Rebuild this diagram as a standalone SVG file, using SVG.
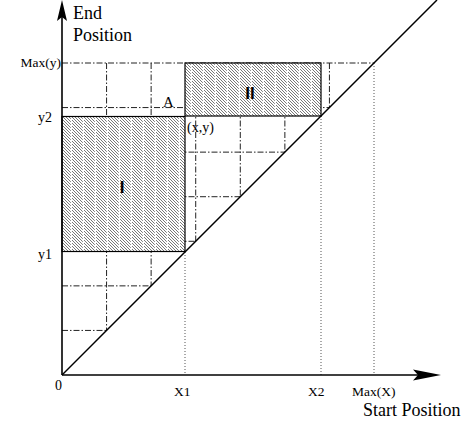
<svg xmlns="http://www.w3.org/2000/svg" width="468" height="428" viewBox="0 0 468 428">
<defs>
<pattern id="hatch" patternUnits="userSpaceOnUse" width="12" height="12">
<rect width="12" height="12" fill="#fff"/>
<path d="M0,-12 L12,0 M0,-9 L12,3 M0,-6 L12,6 M0,-3 L12,9 M0,0 L12,12 M0,3 L12,15 M0,6 L12,18 M0,9 L12,21" stroke="#6a6a6a" stroke-width="0.9"/>
<rect x="10.8" y="0" width="1.2" height="12" fill="#fff"/>
</pattern>
<style>
.dd{stroke:#222;stroke-width:1;stroke-dasharray:6 2 1.5 2;fill:none}
.dot{stroke:#555;stroke-width:1;stroke-dasharray:1 2;fill:none}
.ax{stroke:#000;stroke-width:1.6;fill:none}
.box{fill:url(#hatch);stroke:#000;stroke-width:1.2}
.t{font-family:"Liberation Serif",serif;fill:#000}
.rn{font-family:"Liberation Sans",sans-serif;font-weight:bold;fill:#000;font-size:17px;text-anchor:middle}
</style>
</defs>
<g id="grid">
<path class="dd" d="M62,330.43H106.57 M62,285.86H151.14 M62,241.29H195.71 M62,196.71H240.29 M62,152.14H284.86 M62,107.57H329.43 M62,63H374"/>
<path class="dd" d="M106.57,63V330.43 M151.14,63V285.86 M195.71,63V241.29 M240.29,63V196.71 M284.86,63V152.14 M329.43,63V107.57"/>
<path class="dot" d="M185,252V375 M321,116V375 M374,63V375"/>
</g>
<g id="region-I">
<rect class="box" x="62" y="116.5" width="123" height="135"/>
<text class="rn" x="122" y="193">I</text>
</g>
<g id="region-II">
<rect class="box" x="185" y="63" width="136" height="53"/>
<text class="rn" x="250" y="99">II</text>
</g>
<g id="connectors">
<path class="ax" d="M62,375V14"/>
<path d="M62,0 L67,21 L62,17 L57,21 Z" fill="#000"/>
<path class="ax" d="M62,375H428"/>
<path d="M441,375 L413,369.5 L418,375 L413,380.5 Z" fill="#000"/>
<path d="M62,375 L437,0" stroke="#000" stroke-width="1.5" fill="none"/>
</g>
<g id="labels">
<text class="t" x="73" y="19" font-size="18">End</text>
<text class="t" x="73" y="41" font-size="18">Position</text>
<text class="t" x="363" y="416" font-size="18">Start Position</text>
<text class="t" x="61" y="67" font-size="13.5" text-anchor="end">Max(y)</text>
<text class="t" x="52" y="122" font-size="14" text-anchor="end">y2</text>
<text class="t" x="52" y="259" font-size="14" text-anchor="end">y1</text>
<text class="t" x="55" y="390" font-size="14">0</text>
<text class="t" x="174" y="396" font-size="13.5">X1</text>
<text class="t" x="308" y="396" font-size="13.5">X2</text>
<text class="t" x="352" y="396" font-size="13.5">Max(X)</text>
<text class="t" x="163" y="107" font-size="15">A</text>
<text class="t" x="187" y="132" font-size="14">(x,y)</text>
</g>
</svg>
